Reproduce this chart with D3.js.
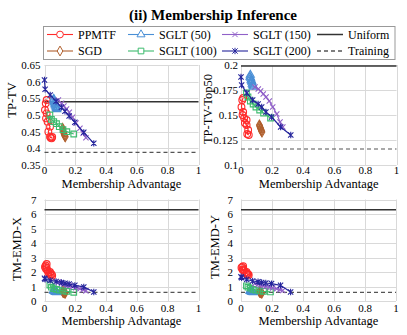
<!DOCTYPE html>
<html>
<head>
<meta charset="utf-8">
<script src="https://cdn.jsdelivr.net/npm/d3@7"></script>
<style>
body { margin: 0; background: #fff; }
svg text { font-family: "Liberation Serif", "Times New Roman", Times, serif; }
</style>
</head>
<body>
<div id="chart"></div>
<script>
// membership advantage (x) of each run, per method
var ppmtfX  = [0.014, 0.008, 0.003, 0.014, 0.010, 0.020, 0.036, 0.025, 0.036, 0.046, 0.040, 0.050];
var sgdX    = [0.118, 0.120, 0.122, 0.125, 0.127, 0.130, 0.132, 0.135];
var sglt50X = [0.060, 0.058, 0.062, 0.065, 0.068, 0.070, 0.072, 0.075, 0.078, 0.080];
var sglt100X = [0.035, 0.045, 0.060, 0.078, 0.096, 0.120, 0.145, 0.190];
var sglt150X = [0.090, 0.111, 0.126, 0.143, 0.161, 0.182, 0.204, 0.230, 0.251, 0.269];
var sglt200X = [0.000, 0.004, 0.037, 0.075, 0.110, 0.133, 0.160, 0.197, 0.255, 0.320];

// TP-TV
var ppmtfTV   = [0.545, 0.535, 0.515, 0.505, 0.490, 0.480, 0.465, 0.450, 0.435, 0.430, 0.432, 0.434];
var sgdTV     = [0.460, 0.455, 0.450, 0.447, 0.443, 0.440, 0.437, 0.435];
var sglt50TV  = [0.548, 0.545, 0.540, 0.537, 0.533, 0.530, 0.527, 0.523, 0.520, 0.517];
var sglt100TV = [0.500, 0.487, 0.480, 0.474, 0.465, 0.456, 0.450, 0.443];
var sglt150TV = [0.545, 0.535, 0.527, 0.518, 0.508, 0.493, 0.476, 0.460, 0.445, 0.432];
var sglt200TV = [0.605, 0.577, 0.560, 0.541, 0.523, 0.511, 0.497, 0.478, 0.448, 0.415];

// TP-TV-Top50
var ppmtfTop   = [0.167, 0.165, 0.158, 0.153, 0.150, 0.147, 0.145, 0.142, 0.140, 0.135, 0.131, 0.130];
var sgdTop     = [0.140, 0.139, 0.138, 0.137, 0.136, 0.135, 0.134, 0.133];
var sglt50Top  = [0.190, 0.188, 0.187, 0.185, 0.184, 0.183, 0.181, 0.180, 0.179, 0.178];
var sglt100Top = [0.172, 0.168, 0.164, 0.161, 0.158, 0.155, 0.152, 0.147];
var sglt150Top = [0.178, 0.176, 0.174, 0.171, 0.168, 0.164, 0.158, 0.151, 0.143, 0.138];
var sglt200Top = [0.188, 0.180, 0.172, 0.165, 0.161, 0.158, 0.153, 0.148, 0.138, 0.130];

// TM-EMD-X
var ppmtfEmdX   = [2.55, 2.45, 2.35, 2.30, 2.20, 2.10, 2.00, 1.95, 1.90, 1.85, 1.80, 1.75];
var sgdEmdX     = [0.65, 0.63, 0.62, 0.60, 0.60, 0.58, 0.57, 0.56];
var sglt50EmdX  = [0.75, 0.72, 0.70, 0.68, 0.66, 0.65, 0.63, 0.62, 0.61, 0.60];
var sglt100EmdX = [1.10, 0.95, 0.85, 0.80, 0.75, 0.70, 0.66, 0.60];
var sglt150EmdX = [1.30, 1.22, 1.15, 1.10, 1.05, 0.98, 0.92, 0.85, 0.78, 0.70];
var sglt200EmdX = [1.56, 1.50, 1.42, 1.35, 1.28, 1.22, 1.17, 1.08, 0.97, 0.62];

// TM-EMD-Y
var ppmtfEmdY   = [2.40, 2.35, 2.30, 2.20, 2.15, 2.10, 2.00, 1.95, 1.90, 1.85, 1.85, 1.80];
var sgdEmdY     = [0.65, 0.63, 0.62, 0.60, 0.60, 0.58, 0.57, 0.56];
var sglt50EmdY  = [0.72, 0.70, 0.68, 0.66, 0.65, 0.64, 0.63, 0.62, 0.61, 0.60];
var sglt100EmdY = [1.05, 0.95, 0.88, 0.80, 0.75, 0.70, 0.67, 0.63];
var sglt150EmdY = [1.20, 1.15, 1.10, 1.05, 1.00, 0.95, 0.90, 0.85, 0.78, 0.72];
var sglt200EmdY = [1.67, 1.60, 1.48, 1.38, 1.33, 1.28, 1.24, 1.20, 1.08, 0.62];

// reference levels per panel (TP-TV, Top50, EMD-X, EMD-Y)
var uniformVals  = [0.54, 0.199, 6.3, 6.3];
var trainingVals = [0.388, 0.116, 0.6, 0.6];

var xTicks = [0, 0.2, 0.4, 0.6, 0.8, 1];
var tvTicks = [0.35, 0.4, 0.45, 0.5, 0.55, 0.6, 0.65];
var topTicks = [0.1, 0.125, 0.15, 0.175, 0.2];
var emdTicks = [0, 1, 2, 3, 4, 5, 6, 7];

var FONT = '"Liberation Serif", "Times New Roman", Times, serif';

// custom stroke symbols (x and asterisk)
var symTimes = {draw: function(c, size) {
    var r = Math.sqrt(size) / 2;
    c.moveTo(-r, -r); c.lineTo(r, r);
    c.moveTo(r, -r); c.lineTo(-r, r);
}};
var symStar = {draw: function(c, size) {
    var r = Math.sqrt(size) / 2;
    c.moveTo(-r, -r); c.lineTo(r, r);
    c.moveTo(r, -r); c.lineTo(-r, r);
    c.moveTo(0, -r * 1.2); c.lineTo(0, r * 1.2);
}};

var methods = [
    {name: "PPMTF", color: "#ff2a2a", sym: d3.symbolCircle, size: 36, x: ppmtfX, ys: [ppmtfTV, ppmtfTop, ppmtfEmdX, ppmtfEmdY]},
    {name: "SGD", color: "#b0602e", sym: d3.symbolDiamond, size: 28, x: sgdX, ys: [sgdTV, sgdTop, sgdEmdX, sgdEmdY]},
    {name: "SGLT (50)", color: "#4a8fd6", sym: d3.symbolTriangle, size: 28, x: sglt50X, ys: [sglt50TV, sglt50Top, sglt50EmdX, sglt50EmdY]},
    {name: "SGLT (100)", color: "#3dbb6e", sym: d3.symbolSquare, size: 32, x: sglt100X, ys: [sglt100TV, sglt100Top, sglt100EmdX, sglt100EmdY]},
    {name: "SGLT (150)", color: "#9060c8", sym: symTimes, size: 28, x: sglt150X, ys: [sglt150TV, sglt150Top, sglt150EmdX, sglt150EmdY]},
    {name: "SGLT (200)", color: "#25259c", sym: symStar, size: 28, x: sglt200X, ys: [sglt200TV, sglt200Top, sglt200EmdX, sglt200EmdY]}
];

var panels = [
    {label: "TP-TV", left: 44.5, right: 198.5, top: 65, bottom: 165, domain: [0.35, 0.65], ticks: tvTicks, gap: 4, xTickY: 170, xTitleY: 184, yTitleX: 12, yTitleY: 100},
    {label: "TP-TV-Top50", left: 241, right: 396.5, top: 65, bottom: 165, domain: [0.1, 0.2], ticks: topTicks, gap: 3, xTickY: 170, xTitleY: 184, yTitleX: 208, yTitleY: 109},
    {label: "TM-EMD-X", left: 44.5, right: 198.5, top: 199.5, bottom: 301, domain: [0, 7], ticks: emdTicks, gap: 8, xTickY: 308, xTitleY: 321, yTitleX: 17, yTitleY: 249},
    {label: "TM-EMD-Y", left: 241, right: 396, top: 199.5, bottom: 301, domain: [0, 7], ticks: emdTicks, gap: 8, xTickY: 308, xTitleY: 321, yTitleX: 215, yTitleY: 247}
];

var svg = d3.select("#chart").append("svg")
    .attr("width", 407)
    .attr("height", 335)
    .attr("font-family", FONT)
    .style("background", "#fff");

// title
svg.append("text")
    .attr("x", 213)
    .attr("y", 15)
    .attr("text-anchor", "middle")
    .attr("dominant-baseline", "central")
    .style("font-family", FONT)
    .style("font-size", "15px")
    .style("font-weight", "bold")
    .text("(ii) Membership Inference");

panels.forEach(function(p, pi) {
    var x = d3.scaleLinear().domain([0, 1]).range([p.left, p.right]);
    var y = d3.scaleLinear().domain(p.domain).range([p.bottom, p.top]);
    var g = svg.append("g");

    // grid
    g.selectAll(".hgrid").data(p.ticks).enter().append("line")
        .attr("x1", p.left).attr("x2", p.right)
        .attr("y1", function(d) { return Math.round(y(d)) + 0.5; })
        .attr("y2", function(d) { return Math.round(y(d)) + 0.5; })
        .style("stroke", "#d9d9d9");
    g.selectAll(".vgrid").data(xTicks).enter().append("line")
        .attr("y1", p.top).attr("y2", p.bottom)
        .attr("x1", function(d) { return Math.round(x(d)) + 0.5; })
        .attr("x2", function(d) { return Math.round(x(d)) + 0.5; })
        .style("stroke", "#d9d9d9");

    // tick labels
    g.selectAll(".ytick").data(p.ticks).enter().append("text")
        .attr("x", p.left - p.gap)
        .attr("y", function(d) { return y(d); })
        .attr("text-anchor", "end")
        .attr("dominant-baseline", "central")
        .style("font-family", FONT)
        .style("font-size", "11px")
        .text(function(d) { return d3.format("~g")(d); });
    g.selectAll(".xtick").data(xTicks).enter().append("text")
        .attr("x", function(d) { return x(d); })
        .attr("y", p.xTickY)
        .attr("text-anchor", "middle")
        .attr("dominant-baseline", "central")
        .style("font-family", FONT)
        .style("font-size", "11px")
        .text(function(d) { return d3.format("~g")(d); });

    // axis titles
    g.append("text")
        .attr("x", (p.left + p.right) / 2)
        .attr("y", p.xTitleY)
        .attr("text-anchor", "middle")
        .attr("dominant-baseline", "central")
        .style("font-family", FONT)
        .style("font-size", "12.5px")
        .text("Membership Advantage");
    g.append("text")
        .attr("transform", "translate(" + p.yTitleX + "," + p.yTitleY + ") rotate(-90)")
        .attr("text-anchor", "middle")
        .attr("dominant-baseline", "central")
        .style("font-family", FONT)
        .style("font-size", "12.5px")
        .text(p.label);

    // reference lines
    g.append("line")
        .attr("x1", x(0)).attr("x2", x(1))
        .attr("y1", y(uniformVals[pi])).attr("y2", y(uniformVals[pi]))
        .style("stroke", "#333")
        .style("stroke-width", 1.5);
    g.append("line")
        .attr("x1", x(0)).attr("x2", x(1))
        .attr("y1", y(trainingVals[pi])).attr("y2", y(trainingVals[pi]))
        .style("stroke", "#555")
        .style("stroke-width", 1.2)
        .style("stroke-dasharray", "4,3");

    // series
    methods.forEach(function(m) {
        var pts = m.x.map(function(v, i) { return [v, m.ys[pi][i]]; });
        var line = d3.line()
            .x(function(d) { return x(d[0]); })
            .y(function(d) { return y(d[1]); });
        g.append("path")
            .datum(pts)
            .attr("d", line)
            .style("fill", "none")
            .style("stroke", m.color)
            .style("stroke-width", 1.2);
        g.selectAll(".pt").data(pts).enter().append("path")
            .attr("transform", function(d) { return "translate(" + x(d[0]) + "," + y(d[1]) + ")"; })
            .attr("d", d3.symbol().type(m.sym).size(m.size))
            .style("fill", "none")
            .style("stroke", m.color)
            .style("stroke-width", 1.1);
    });
});

// legend
var legend = svg.append("g");
legend.append("rect")
    .attr("x", 43.5).attr("y", 26.5)
    .attr("width", 351.5).attr("height", 33)
    .style("fill", "#fff")
    .style("stroke", "#999");

var colX = [47, 128, 222, 317];
var rowY = [34.5, 51];
var legendItems = methods.map(function(m, i) {
    return {name: m.name, color: m.color, sym: m.sym, size: m.size, col: Math.floor(i / 2), row: i % 2};
});
legendItems.push({name: "Uniform", color: "#333", col: 3, row: 0});
legendItems.push({name: "Training", color: "#555", dash: "4,3", col: 3, row: 1});

legendItems.forEach(function(it) {
    var lx = colX[it.col], ly = rowY[it.row];
    legend.append("line")
        .attr("x1", lx).attr("x2", lx + 26)
        .attr("y1", ly).attr("y2", ly)
        .style("stroke", it.color)
        .style("stroke-width", it.sym ? 1.1 : 1.5)
        .style("stroke-dasharray", it.dash || null);
    if (it.sym) {
        legend.append("path")
            .attr("transform", "translate(" + (lx + 13) + "," + ly + ")")
            .attr("d", d3.symbol().type(it.sym).size(it.size))
            .style("fill", "#fff")
            .style("stroke", it.color);
    }
    legend.append("text")
        .attr("x", lx + 31)
        .attr("y", ly)
        .attr("dominant-baseline", "central")
        .style("font-family", FONT)
        .style("font-size", "12px")
        .text(it.name);
});
</script>
</body>
</html>
